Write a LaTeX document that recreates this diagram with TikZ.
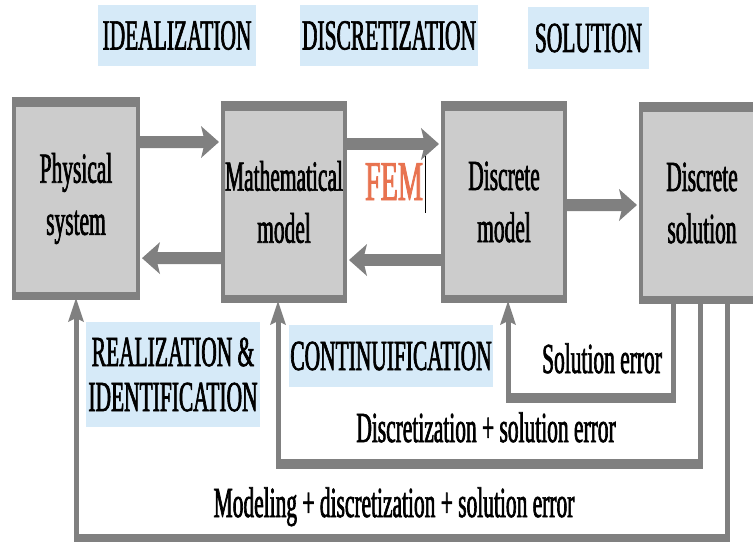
\documentclass[tikz,border=0pt]{standalone}
\usepackage{fontspec}
\setmainfont{Liberation Serif}[FakeStretch=0.5, FakeBold=1.5]
\usepackage{xcolor}
\usepackage{tikz}
\usetikzlibrary{arrows.meta}
\definecolor{boxgray}{RGB}{204,204,204}
\definecolor{edgegray}{RGB}{128,128,128}
\definecolor{tagblue}{RGB}{214,234,248}
\definecolor{femorange}{RGB}{232,115,80}
\newcommand{\diagfont}{\fontsize{30.5}{37}\selectfont}

\begin{document}
\begin{tikzpicture}[x=0.025cm, y=-0.025cm,
  block/.style={rectangle, draw=edgegray, fill=boxgray, line width=0.1cm, inner sep=0pt, minimum width=3.05cm, minimum height=4.85cm, align=center, font=\diagfont},
  tag/.style={rectangle, fill=tagblue, inner sep=0pt, align=center, font=\diagfont},
  note/.style={inner sep=0pt, font=\diagfont},
  bar/.style={draw=edgegray, line width=0.25cm, shorten <=-0.0625cm, shorten >=-0.0625cm},
  flow/.style={draw=edgegray, line width=0.3cm, -{Stealth[length=0.45cm, width=0.8cm, inset=0.1cm, line width=0pt]}, shorten >=0.05cm},
  feedback/.style={draw=edgegray, line width=0.125cm, -{Stealth[length=0.6cm, width=0.4cm, inset=0.1cm, line width=0pt]}}]
\useasboundingbox (0,0) rectangle (753,541);
\node[block, minimum width=3.1cm, minimum height=4.875cm] (phys) at (76,198.5) {Physical\\system};
\node[block] (math) at (284,202) {Mathematical\\model};
\node[block] (disc) at (504,202) {Discrete\\model};
\node[block] (sol) at (702,203) {Discrete\\solution};
\foreach \n in {phys,math,disc,sol} {
  \draw[edgegray, line width=0.25cm] ([yshift=-0.075cm]\n.north west) -- ([yshift=-0.075cm]\n.north east);
  \draw[edgegray, line width=0.2cm] ([yshift=0.05cm]\n.south west) -- ([yshift=0.05cm]\n.south east);
}
\node[tag, minimum width=3.95cm, minimum height=1.525cm] (ideal) at (177,35.5) {IDEALIZATION};
\node[tag, minimum width=4.45cm, minimum height=1.525cm] (discz) at (389,35.5) {DISCRETIZATION};
\node[tag, minimum width=3.025cm, minimum height=1.55cm] (solz) at (588.5,38) {SOLUTION};
\node[tag, minimum width=4.35cm, minimum height=2.625cm, font=\fontsize{30.5}{32}\selectfont] (real) at (173,374.5) {REALIZATION \&\\IDENTIFICATION};
\node[tag, minimum width=5.1cm, minimum height=1.55cm] (cont) at (391,356) {CONTINUIFICATION};
\node[note, anchor=base] (solerr) at (602,373) {Solution error};
\node[note, anchor=base] (discerr) at (486,442) {Discretization + solution error};
\node[note, anchor=base] (moderr) at (394,517) {Modeling + discretization + solution error};
\node[note, anchor=base, text=femorange, font=\fontsize{40}{44}\selectfont] (fem) at (394,200) {FEM};
\draw[line width=0.5pt] (425,150) -- (425,213);
\draw[flow] ([yshift=1.41cm]phys.east) -- ([yshift=1.5cm]math.west);
\draw[flow] ([yshift=-1.4cm]math.west) -- ([yshift=-1.49cm]phys.east);
\draw[flow] ([yshift=1.45cm]math.east) -- ([yshift=1.45cm]disc.west);
\draw[flow] ([yshift=-1.45cm]disc.west) -- ([yshift=-1.45cm]math.east);
\draw[flow] ([yshift=-0.075cm]disc.east) -- ([yshift=-0.05cm]sol.west);
\draw[feedback] ([xshift=-0.725cm]sol.south) -- ++(0,96) coordinate (e1) -| ([xshift=0.1cm]disc.south) coordinate (t1);
\draw[feedback] ([xshift=-0.05cm]sol.south) -- ++(0,162) coordinate (e2) -| ([xshift=-0.15cm]math.south) coordinate (t2);
\draw[feedback] ([xshift=0.625cm]sol.south) -- ++(0,237) coordinate (e3) -| (phys.south) coordinate (t3);
\draw[bar] (e1) -- (e1 -| t1);
\draw[bar] (e2) -- (e2 -| t2);
\draw[bar] (e3) -- (e3 -| t3);
\end{tikzpicture}
\end{document}
